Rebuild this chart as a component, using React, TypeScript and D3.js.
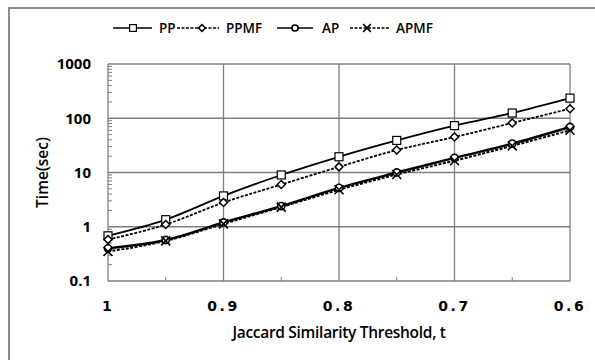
import { useEffect, useRef } from "react";
import * as d3 from "d3";

// thresholds on the x axis (reversed, 1 -> 0.6)
const thresholds = [1, 0.95, 0.9, 0.85, 0.8, 0.75, 0.7, 0.65, 0.6];
const ppTimes = [0.68, 1.35, 3.7, 9, 19.5, 39, 73, 125, 235];
const ppmfTimes = [0.58, 1.1, 2.8, 6, 12.7, 26, 45, 82, 150];
const apTimes = [0.4, 0.57, 1.2, 2.4, 5.2, 10, 18.6, 34, 69];
const apmfTimes = [0.35, 0.55, 1.13, 2.3, 4.8, 9.2, 16.5, 31, 60];
const xTicks = [1, 0.9, 0.8, 0.7, 0.6];
const xMinor = [0.95, 0.85, 0.75, 0.65];
const yTicks = [0.1, 1, 10, 100, 1000];

const series = [
  { name: "PP", values: ppTimes, dash: null, width: 1.8, marker: "square" },
  { name: "PPMF", values: ppmfTimes, dash: "3,1.5", width: 1.8, marker: "diamond" },
  { name: "AP", values: apTimes, dash: null, width: 2.4, marker: "circle" },
  { name: "APMF", values: apmfTimes, dash: "3,1.5", width: 2, marker: "cross" },
];

const W = 595;
const H = 360;
const grid = "#7f7f7f";
const font = "'Open Sans', 'DejaVu Sans', sans-serif";

function drawMarker(g: any, type: string, x: number, y: number, s = 1) {
  if (type === "square") {
    g.append("rect").attr("x", x - 4 * s).attr("y", y - 4 * s).attr("width", 8 * s).attr("height", 8 * s)
      .attr("fill", "white").attr("stroke", "black").attr("stroke-width", 1.2);
  } else if (type === "diamond") {
    g.append("path").attr("d", `M${x},${y - 4 * s}L${x + 4 * s},${y}L${x},${y + 4 * s}L${x - 4 * s},${y}Z`)
      .attr("fill", "white").attr("stroke", "black").attr("stroke-width", 1.5);
  } else if (type === "circle") {
    g.append("circle").attr("cx", x).attr("cy", y).attr("r", 3.6 * s)
      .attr("fill", "white").attr("stroke", "black").attr("stroke-width", 1.6);
  } else {
    const r = 4.5 * s;
    g.append("path").attr("d", `M${x - r},${y - r}L${x + r},${y + r}M${x + r},${y - r}L${x - r},${y + r}`)
      .attr("stroke", "black").attr("stroke-width", 1.6);
  }
}

const App = () => {
  const svgRef = useRef<SVGSVGElement>(null);

  useEffect(() => {
    const svg = d3.select(svgRef.current);
    svg.selectAll("*").remove();

    const left = 108, right = 570, top = 64, bottom = 281;
    const x = d3.scaleLinear().domain([1, 0.6]).range([left, right]);
    const y = d3.scaleLog().domain([0.1, 1000]).range([bottom, top]);

    // outer frame
    svg.append("path").attr("d", `M9,${H}V8H${W}`).attr("fill", "none")
      .attr("stroke", "#8c8c8c").attr("stroke-width", 2);

    // grid
    const gridG = svg.append("g");
    gridG.selectAll("line.h").data(yTicks).join("line")
      .attr("x1", left).attr("x2", right).attr("y1", (d) => y(d)).attr("y2", (d) => y(d))
      .attr("stroke", grid).attr("stroke-width", 1.3);
    gridG.selectAll("line.v").data(xTicks).join("line")
      .attr("x1", (d) => x(d)).attr("x2", (d) => x(d)).attr("y1", top).attr("y2", bottom)
      .attr("stroke", grid).attr("stroke-width", 1.3);

    // minor y ticks
    const minorY: number[] = [];
    for (let p = -1; p < 3; p++) for (let k = 2; k <= 9; k++) minorY.push(k * Math.pow(10, p));
    gridG.selectAll("line.my").data(minorY).join("line")
      .attr("x1", left).attr("x2", left + 4).attr("y1", (d) => y(d)).attr("y2", (d) => y(d))
      .attr("stroke", grid).attr("stroke-width", 1);
    gridG.selectAll("line.mx").data(xMinor).join("line")
      .attr("x1", (d) => x(d)).attr("x2", (d) => x(d)).attr("y1", bottom).attr("y2", bottom - 4)
      .attr("stroke", grid).attr("stroke-width", 1);

    // tick labels
    svg.append("g").selectAll("text").data(yTicks).join("text")
      .attr("x", 91).attr("y", (d) => y(d)).attr("dy", "0.35em")
      .attr("text-anchor", "end").attr("font-family", font).attr("font-weight", "bold")
      .attr("font-size", 15).text((d) => String(d));
    svg.append("g").selectAll("text").data(xTicks).join("text")
      .attr("x", (d) => x(d)).attr("y", 311)
      .attr("text-anchor", "middle").attr("font-family", "'DejaVu Sans', sans-serif").attr("font-weight", "bold")
      .attr("font-size", 14).attr("letter-spacing", 2.5).text((d) => String(d));

    // axis titles
    svg.append("text").attr("x", 339).attr("y", 338).attr("text-anchor", "middle")
      .attr("font-family", font).attr("font-weight", 600).attr("font-size", 15.5)
      .attr("letter-spacing", -0.3)
      .text("Jaccard Similarity Threshold, t");
    svg.append("text").attr("transform", `translate(48,${(top + bottom) / 2}) rotate(-90)`)
      .attr("text-anchor", "middle").attr("font-family", font).attr("font-weight", 600)
      .attr("font-size", 15.5).text("Time(sec)");

    // series
    const line = d3.line<number>().x((_, i) => x(thresholds[i])).y((d) => y(d)).curve(d3.curveMonotoneX);
    series.forEach((s) => {
      svg.append("path").attr("d", line(s.values)).attr("fill", "none")
        .attr("stroke", "black").attr("stroke-width", s.width)
        .attr("stroke-dasharray", s.dash);
    });
    series.forEach((s) => {
      const g = svg.append("g");
      s.values.forEach((v, i) => drawMarker(g, s.marker, x(thresholds[i]), y(v)));
    });

    // legend
    const legendItems = [
      { x0: 113, x1: 152, mx: 133, tx: 159 },
      { x0: 177, x1: 219, mx: 202, tx: 226 },
      { x0: 277, x1: 313, mx: 295, tx: 322 },
      { x0: 350, x1: 389, mx: 367, tx: 396 },
    ];
    const ly = 28;
    series.forEach((s, i) => {
      const it = legendItems[i];
      const g = svg.append("g");
      g.append("line").attr("x1", it.x0).attr("x2", it.x1).attr("y1", ly).attr("y2", ly)
        .attr("stroke", "black").attr("stroke-width", 1.4).attr("stroke-dasharray", s.dash);
      drawMarker(g, s.marker, it.mx, ly, 0.85);
      g.append("text").attr("x", it.tx).attr("y", ly).attr("dy", "0.35em")
        .attr("font-family", "'Liberation Sans Narrow', 'Open Sans', sans-serif")
        .attr("font-weight", 600).attr("font-size", 13.5).text(s.name);
    });
  }, []);

  return (
    <div style={{ position: "fixed", left: 0, top: 0, background: "white" }}>
      <svg ref={svgRef} width={W} height={H} style={{ display: "block" }} />
    </div>
  );
};

export default App;
